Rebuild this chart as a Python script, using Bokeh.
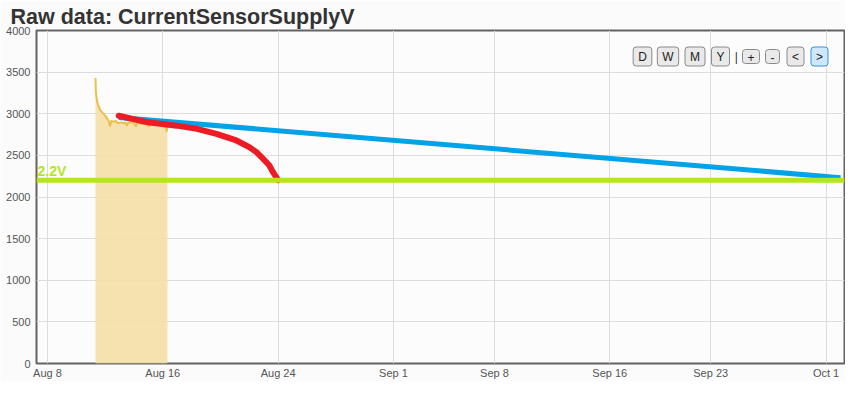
import pandas as pd
from bokeh.plotting import figure
from bokeh.models import FixedTicker, DatetimeTickFormatter, Label, Span, Range1d
from bokeh.embed import file_html
from bokeh.resources import INLINE

# ---- data ----
raw_times = ["2014-08-11 08:00", "2014-08-11 08:35", "2014-08-11 10:45", "2014-08-11 15:45",
             "2014-08-11 20:40", "2014-08-12 01:40", "2014-08-12 06:35", "2014-08-12 08:15",
             "2014-08-12 10:00", "2014-08-12 14:55", "2014-08-12 18:15", "2014-08-12 21:30",
             "2014-08-13 02:30", "2014-08-13 05:45", "2014-08-13 09:05", "2014-08-13 12:25",
             "2014-08-13 14:05", "2014-08-13 19:00", "2014-08-14 00:00", "2014-08-14 03:20",
             "2014-08-14 05:00", "2014-08-14 09:55", "2014-08-14 16:35", "2014-08-14 21:30",
             "2014-08-15 00:50", "2014-08-15 02:30", "2014-08-15 09:05", "2014-08-15 14:05",
             "2014-08-15 19:00", "2014-08-16 00:00", "2014-08-16 05:00", "2014-08-16 06:35",
             "2014-08-16 07:45"]
raw_values = [3429, 3262, 3143, 3044, 3004, 2964, 2905, 2845, 2913, 2905, 2913, 2885,
              2897, 2885, 2897, 2857, 2893, 2897, 2893, 2845, 2893, 2885, 2877, 2885,
              2845, 2880, 2877, 2869, 2873, 2869, 2857, 2786, 2869]

linear_times = ["2014-08-12 22:40", "2014-10-02 00:00"]
linear_values = [2956, 2232]

curve_times = ["2014-08-12 22:40", "2014-08-14 23:00", "2014-08-16 23:10", "2014-08-18 08:50",
               "2014-08-19 17:20", "2014-08-21 02:30", "2014-08-22 00:00", "2014-08-22 12:20",
               "2014-08-22 22:40", "2014-08-23 09:10", "2014-08-23 15:10", "2014-08-24 00:00"]
curve_values = [2976, 2897, 2857, 2818, 2758, 2679, 2599, 2536, 2460, 2381, 2301, 2202]

threshold_value = 2200
threshold_label = "2.2V"

x_tick_dates = ["2014-08-08", "2014-08-16", "2014-08-24", "2014-09-01",
                "2014-09-08", "2014-09-16", "2014-09-23", "2014-10-01"]
y_ticks = [0, 500, 1000, 1500, 2000, 2500, 3000, 3500, 4000]

title_text = "Raw data: CurrentSensorSupplyV"
buttons = ["D", "W", "M", "Y", "+", "-", "<", ">"]


def ms(s):
    return pd.Timestamp(s).value / 1e6


FONT = "Liberation Sans"
LEFT, RIGHT, TOP, BOTTOM = 36, 1, 30, 17
FRAME_W = 845 - LEFT - RIGHT
FRAME_H = 380 - TOP - BOTTOM

p = figure(frame_width=FRAME_W, frame_height=FRAME_H, x_axis_type="datetime",
           output_backend="svg", toolbar_location=None, title=title_text,
           x_range=Range1d(ms("2014-08-07 05:48"), ms("2014-10-02 06:40")),
           y_range=Range1d(0, 4000),
           min_border_left=LEFT, min_border_right=RIGHT,
           min_border_top=TOP, min_border_bottom=BOTTOM)

p.title.text_font = FONT
p.title.text_font_size = "21.5px"
p.title.text_font_style = "bold"
p.title.text_color = "#333333"
p.title.offset = 10 - LEFT
p.title.standoff = 3

p.background_fill_color = "#fcfcfc"
p.border_fill_color = "#fbfbfb"
p.outline_line_color = "#636363"
p.outline_line_width = 2

p.xaxis.ticker = FixedTicker(ticks=[ms(d) for d in x_tick_dates])
p.xaxis.formatter = DatetimeTickFormatter(days="%b %-d", months="%b %-d", hours="%b %-d")
p.yaxis.ticker = FixedTicker(ticks=y_ticks)
for ax in (p.xaxis, p.yaxis):
    ax.axis_line_color = None
    ax.major_tick_line_color = None
    ax.minor_tick_line_color = None
    ax.major_tick_out = 0
    ax.major_tick_in = 0
    ax.major_label_text_font = FONT
    ax.major_label_text_font_size = "11px"
    ax.major_label_text_color = "#555555"
p.xaxis.major_label_standoff = 3
p.yaxis.major_label_standoff = 6

p.xgrid.grid_line_color = "#dcdcdc"
p.ygrid.grid_line_color = "#dcdcdc"

rt = [pd.Timestamp(t) for t in raw_times]
p.varea(x=rt, y1=0, y2=raw_values, fill_color="#f5dfa5", fill_alpha=0.9)
p.line(x=rt, y=raw_values, line_color="#e9c04e", line_width=2)

p.line(x=[pd.Timestamp(t) for t in linear_times], y=linear_values,
       line_color="#00a2e8", line_width=5)
p.line(x=[pd.Timestamp(t) for t in curve_times], y=curve_values,
       line_color="#ed1c24", line_width=6, line_cap="round", line_join="round")

p.add_layout(Span(location=threshold_value, dimension="width",
                  line_color="#b5e61d", line_width=5))
p.add_layout(Label(x=1, y=threshold_value, x_units="screen", y_units="data", y_offset=1,
                   text=threshold_label,
                   text_font=FONT, text_font_size="14px", text_font_style="bold",
                   text_color="#b5e61d", text_baseline="bottom"))

# range-selector buttons (reference centres measured from the frame's right edge)
btn_from_right = [202, 176.5, 149.5, 124, 93.5, 72, 49, 25]
for b, d in zip(buttons, btn_from_right):
    sel = b == ">"
    p.add_layout(Label(x=FRAME_W - d, y=FRAME_H - 26, x_units="screen", y_units="screen",
                       text=b,
                       text_font=FONT, text_font_size="12px", text_color="#222222",
                       text_align="center", text_baseline="middle",
                       background_fill_color="#cfe7fa" if sel else "#e9e9e9",
                       border_line_color="#3d8fd6" if sel else "#8a8a8a",
                       border_line_width=1, border_radius=3,
                       padding=dict(left=5, right=5, top=3, bottom=2)))
p.add_layout(Label(x=FRAME_W - 108.3, y=FRAME_H - 26, x_units="screen", y_units="screen",
                   text="|",
                   text_font=FONT, text_font_size="12px", text_color="#333333",
                   text_align="center", text_baseline="middle"))

open("out.html", "w").write(file_html(p, INLINE))
